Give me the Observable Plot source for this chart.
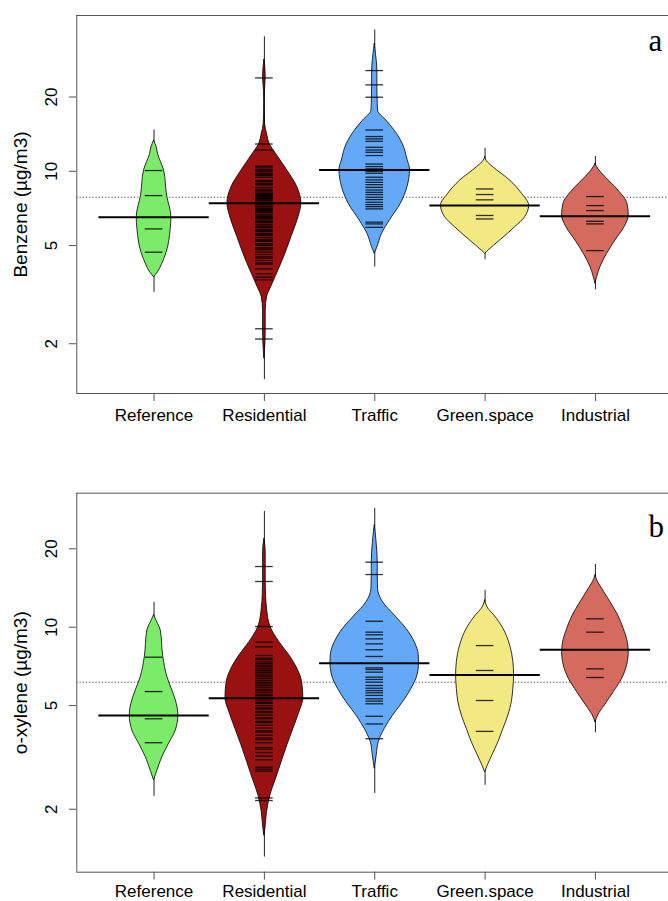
<!DOCTYPE html>
<html><head><meta charset="utf-8">
<script src="https://cdn.jsdelivr.net/npm/d3@7"></script>
<script src="https://cdn.jsdelivr.net/npm/@observablehq/plot@0.6"></script>
<style>body{margin:0;background:#fff;} #chart svg{display:block;}</style>
</head><body><div id="chart"></div>
<script>
// ---------- data ----------
const categories = ["Reference", "Residential", "Traffic", "Green.space", "Industrial"];
const beanColors = ["#7CEB6A", "#9A1111", "#63A9F7", "#F3E983", "#D56B5E"];
const yTicks = [2, 5, 10, 20];

// group means (thick lines) and overall mean (dotted line)
const benzeneMeans = [6.51, 7.42, 10.13, 7.26, 6.57];
const benzeneOverall = 7.85;
const xyleneMeans = [4.58, 5.34, 7.27, 6.56, 8.19];
const xyleneOverall = 6.15;

// extent of each bean's tail line [low, high]
const benzeneRanges = [[3.23, 14.7], [1.43, 35.1], [4.09, 37.4], [4.38, 12.4], [3.31, 11.47]];
const xyleneRanges = [[2.24, 12.47], [1.31, 27.8], [2.30, 28.6], [2.47, 13.84], [3.93, 17.4]];

// bean outlines: [value, half width of the bean in category units]
const benzeneBeanReference = [[13.3,0],[12.51,0.024],[11.76,0.036],[10.07,0.091],[7.97,0.118],[6.51,0.157],[5.84,0.151],[4.70,0.115],[4.22,0.075],[3.9,0.036],[3.72,0]];
const benzeneBeanResidential = [[28.3,0],[26,0.009],[23.9,0.012],[20.9,0.003],[18.75,0.001],[15.6,0.006],[14.18,0.024],[12.9,0.048],[11.76,0.106],[10.07,0.208],[8.61,0.299],[7.42,0.335],[6.31,0.299],[5.41,0.245],[4.63,0.190],[3.96,0.127],[3.39,0.061],[3.09,0.024],[2.73,0.012],[2.26,0.012],[2.0,0.009],[1.74,0]];
const benzeneBeanTraffic = [[32.8,0],[29.9,0.011],[25.6,0.024],[21.9,0.024],[18.75,0.027],[17.6,0.030],[16.05,0.106],[14.6,0.181],[12.9,0.254],[11.05,0.299],[10.16,0.320],[8.61,0.296],[7.38,0.236],[6.31,0.136],[5.58,0.066],[4.92,0.024],[4.63,0]];
const benzeneBeanGreen = [[11.4,0],[11.05,0.012],[10.38,0.075],[9.17,0.227],[8.10,0.335],[7.26,0.399],[6.51,0.362],[5.93,0.272],[5.24,0.136],[4.77,0.030],[4.63,0]];
const benzeneBeanIndustrial = [[10.7,0],[10.07,0.036],[9.46,0.091],[8.36,0.208],[7.38,0.290],[6.62,0.302],[5.93,0.263],[5.24,0.181],[4.63,0.106],[4.09,0.045],[3.72,0.015],[3.5,0]];

const xyleneBeanReference = [[11.1,0],[10.3,0.036],[9.71,0.061],[7.67,0.084],[6.43,0.121],[5.71,0.166],[5.08,0.206],[4.58,0.220],[4.01,0.197],[3.57,0.136],[3.17,0.075],[2.81,0.030],[2.58,0]];
const xyleneBeanResidential = [[21.8,0],[19.4,0.012],[17.1,0.012],[14.98,0.012],[13.24,0.015],[11.77,0.024],[10.06,0.054],[8.76,0.136],[7.79,0.227],[6.92,0.299],[6.15,0.342],[5.34,0.353],[4.71,0.317],[4.07,0.263],[3.52,0.208],[3.04,0.157],[2.62,0.106],[2.26,0.054],[1.95,0.024],[1.68,0.009],[1.58,0]];
const xyleneBeanTraffic = [[24.6,0],[21.8,0.014],[17.77,0.027],[15.93,0.027],[14.03,0.030],[12.47,0.075],[11.09,0.181],[9.86,0.287],[8.76,0.362],[7.79,0.399],[7.27,0.401],[6.52,0.387],[5.80,0.333],[5.15,0.256],[4.58,0.166],[4.07,0.091],[3.62,0.036],[3.22,0.018],[2.86,0]];
const xyleneBeanGreen = [[12.66,0],[11.77,0.030],[11.09,0.084],[9.86,0.166],[8.50,0.227],[7.34,0.256],[6.52,0.263],[5.80,0.256],[5.15,0.242],[4.58,0.211],[4.07,0.166],[3.62,0.121],[3.22,0.066],[2.94,0.024],[2.77,0]];
const xyleneBeanIndustrial = [[15.8,0],[14.88,0.024],[14.03,0.061],[12.47,0.136],[11.09,0.206],[9.86,0.256],[8.76,0.293],[8.01,0.302],[7.13,0.287],[6.34,0.242],[5.63,0.166],[5.00,0.084],[4.58,0.024],[4.31,0]];

// individual observations (bean lines)
const benzeneObsReference = [10.07, 7.97, 5.84, 4.70];
const benzeneObsResidential = [23.9, 12.9, 12.2, 10.5, 10.4, 10.2, 10.1, 9.95, 9.8, 9.7, 9.6, 9.45, 9.2, 9.1, 8.95, 8.85, 8.8, 8.6, 8.45, 8.35, 8.25, 8.15, 8.1, 8.05, 8.0, 7.95, 7.9, 7.85, 7.8, 7.75, 7.7, 7.6, 7.5, 7.45, 7.4, 7.3, 7.2, 7.1, 7.05, 7.0, 6.95, 6.9, 6.85, 6.8, 6.7, 6.6, 6.55, 6.5, 6.45, 6.4, 6.3, 6.25, 6.2, 6.1, 6.0, 5.95, 5.9, 5.8, 5.75, 5.7, 5.6, 5.55, 5.5, 5.4, 5.3, 5.25, 5.2, 5.1, 5.05, 5.0, 4.9, 4.85, 4.8, 4.7, 4.6, 4.5, 4.45, 4.35, 4.25, 4.2, 4.02, 3.84, 3.72, 3.63, 2.30, 2.09];
const benzeneObsTraffic = [25.6, 22.4, 19.96, 14.7, 13.83, 13.53, 13.23, 12.51, 12.2, 11.94, 11.58, 10.7, 10.45, 10.23, 10.0, 9.82, 9.46, 9.23, 9.02, 8.83, 8.61, 8.4, 8.22, 8.05, 7.85, 7.68, 7.49, 7.33, 7.19, 7.04, 6.22, 6.12, 5.93];
const benzeneObsGreen = [8.48, 8.05, 7.66, 6.62, 6.41];
const benzeneObsIndustrial = [7.9, 7.26, 6.93, 6.27, 6.12, 4.77];

const xyleneObsReference = [7.67, 5.66, 4.45, 3.60];
const xyleneObsResidential = [17.1, 14.98, 10.06, 8.76, 8.4, 7.79, 7.6, 7.5, 7.35, 7.25, 7.15, 7.05, 6.95, 6.85, 6.8, 6.7, 6.6, 6.5, 6.45, 6.35, 6.25, 6.15, 6.1, 6.0, 5.95, 5.85, 5.75, 5.7, 5.6, 5.5, 5.45, 5.35, 5.25, 5.15, 5.1, 5.0, 4.9, 4.85, 4.75, 4.7, 4.6, 4.5, 4.45, 4.35, 4.3, 4.2, 4.1, 4.0, 3.95, 3.85, 3.75, 3.7, 3.6, 3.45, 3.4, 3.3, 3.2, 3.1, 2.9, 2.85, 2.8, 2.21, 2.16];
const xyleneObsTraffic = [17.77, 15.93, 10.54, 9.57, 9.35, 9.02, 8.63, 8.19, 7.72, 6.98, 6.88, 6.72, 6.43, 6.30, 6.15, 5.97, 5.83, 5.71, 5.60, 5.47, 5.31, 5.20, 5.08, 4.55, 4.25, 3.73];
const xyleneObsGreen = [8.50, 6.82, 5.23, 3.98];
const xyleneObsIndustrial = [10.77, 9.57, 6.92, 6.41];

// ---------- drawing ----------
function makePanel(cfg) {
  const beanRows = [], obsRows = [];
  categories.forEach((c, i) => {
    cfg.beans[i].forEach(([v, w]) => beanRows.push({cat: c, v, x1: i + 1 - w, x2: i + 1 + w}));
    cfg.obs[i].forEach(v => obsRows.push({cat: c, v, pos: i + 1}));
  });
  const meanRows = cfg.means.map((v, i) => ({v, pos: i + 1}));
  const rangeRows = cfg.ranges.map(([lo, hi], i) => ({lo, hi, pos: i + 1}));
  return Plot.plot({
    width: 668, height: cfg.height,
    marginLeft: 76.3, marginRight: 0, marginTop: cfg.marginTop, marginBottom: cfg.marginBottom,
    style: {fontFamily: '"Liberation Sans", Arial, sans-serif', fontSize: "17px", background: "white", color: "black", overflow: "visible"},
    x: {domain: [0.3, 5.662], axis: null, label: null},
    y: {type: "log", domain: cfg.yDomain, axis: null, label: null},
    color: {domain: categories, range: beanColors},
    marks: [
      Plot.ruleY([cfg.overall], {stroke: "#444", strokeDasharray: "1.2,2", strokeWidth: 1}),
      Plot.ruleX(rangeRows, {x: "pos", y1: "lo", y2: "hi", stroke: "#222", strokeWidth: 1}),
      Plot.areaX(beanRows, {y: "v", x1: "x1", x2: "x2", z: "cat", fill: "cat", stroke: "black", strokeWidth: 0.8, curve: "monotone-y"}),
      Plot.ruleY(obsRows, {y: "v", x1: d => d.pos - 0.08, x2: d => d.pos + 0.08, stroke: "black", strokeOpacity: 0.8, strokeWidth: 1.3}),
      Plot.ruleY(meanRows, {y: "v", x1: d => d.pos - 0.5, x2: d => d.pos + 0.5, stroke: "black", strokeWidth: 2}),
      Plot.ruleY(cfg.yDomain, {stroke: "#555", strokeWidth: 1}),
      Plot.ruleX([0.3], {stroke: "#555", strokeWidth: 1}),
      Plot.axisX({ticks: [1, 2, 3, 4, 5], tickSize: 8, tickFormat: () => "", stroke: "#555", label: null}),
      Plot.axisY({ticks: yTicks, tickSize: 7.5, tickFormat: () => "", stroke: "#555", label: null}),
      Plot.text(yTicks, {y: d => d, text: d => String(d), frameAnchor: "left", rotate: -90, dx: -25, textAnchor: "middle", lineAnchor: "middle", fontSize: 17}),
      Plot.text([cfg.yTitle], {frameAnchor: "left", rotate: -90, dx: -56, textAnchor: "middle", lineAnchor: "middle", fontSize: 19}),
      Plot.text(categories, {x: (d, i) => i + 1, frameAnchor: "bottom", lineAnchor: "bottom", dy: cfg.labelDy, fontSize: 17}),
      Plot.text([cfg.letter], {frameAnchor: "top-right", textAnchor: "start", lineAnchor: "bottom", dx: -20, dy: cfg.letterDy, fontFamily: '"Liberation Serif", "Times New Roman", serif', fontSize: 31})
    ]
  });
}

const chart = document.getElementById("chart");
chart.appendChild(makePanel({
  beans: [benzeneBeanReference, benzeneBeanResidential, benzeneBeanTraffic, benzeneBeanGreen, benzeneBeanIndustrial],
  obs: [benzeneObsReference, benzeneObsResidential, benzeneObsTraffic, benzeneObsGreen, benzeneObsIndustrial],
  means: benzeneMeans, overall: benzeneOverall, ranges: benzeneRanges,
  yDomain: [1.257, 42.8], yTitle: "Benzene (µg/m3)", letter: "a",
  height: 440, marginTop: 15, marginBottom: 47, labelDy: 27.5, letterDy: 35
}));
chart.appendChild(makePanel({
  beans: [xyleneBeanReference, xyleneBeanResidential, xyleneBeanTraffic, xyleneBeanGreen, xyleneBeanIndustrial],
  obs: [xyleneObsReference, xyleneObsResidential, xyleneObsTraffic, xyleneObsGreen, xyleneObsIndustrial],
  means: xyleneMeans, overall: xyleneOverall, ranges: xyleneRanges,
  yDomain: [1.146, 32.7], yTitle: "o-xylene (µg/m3)", letter: "b",
  height: 461, marginTop: 52.7, marginBottom: 29.3, labelDy: 24.5, letterDy: 44
}));
</script></body></html>
